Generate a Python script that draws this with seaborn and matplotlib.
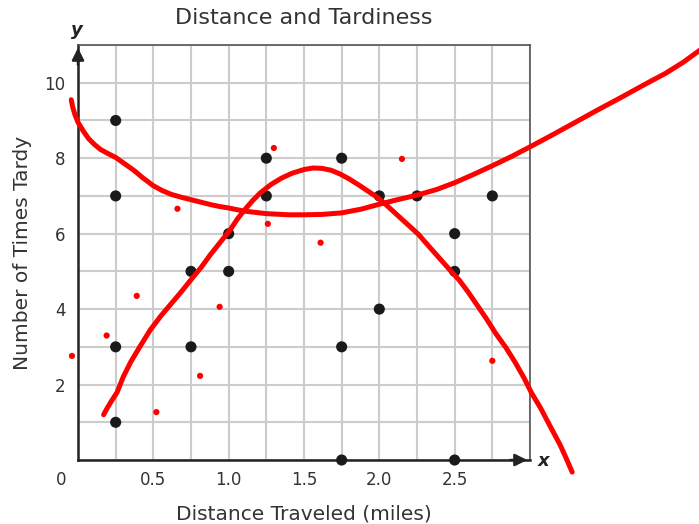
import numpy as np
import pandas as pd
import matplotlib
matplotlib.use('Agg')
import matplotlib.pyplot as plt
import seaborn as sns

# data points
distance = [0.25, 0.25, 0.25, 0.25, 0.75, 0.75, 1.0, 1.0, 1.25, 1.25,
            1.75, 1.75, 1.75, 2.0, 2.0, 2.25, 2.5, 2.5, 2.5, 2.75]
tardy = [9, 7, 3, 1, 5, 3, 6, 5, 8, 7,
         8, 3, 0, 7, 4, 7, 6, 5, 0, 7]

# hand drawn red curves
curve1_x = [-0.045, -0.035, -0.02, 0.0, 0.035, 0.07, 0.11, 0.15, 0.2, 0.25, 0.31,
            0.37, 0.43, 0.5, 0.56, 0.62, 0.69, 0.75, 0.82, 0.88, 0.94, 1.0,
            1.1, 1.25, 1.4, 1.5, 1.62, 1.75, 1.88, 2.0, 2.12, 2.25, 2.38,
            2.5, 2.62, 2.75, 2.88, 3.0, 3.15, 3.3, 3.45, 3.6, 3.75, 3.9,
            4.02, 4.14]
curve1_y = [9.55, 9.35, 9.15, 8.95, 8.72, 8.52, 8.36, 8.23, 8.12, 8.02, 7.85,
            7.68, 7.48, 7.27, 7.14, 7.04, 6.96, 6.9, 6.83, 6.77, 6.72, 6.68,
            6.6, 6.53, 6.5, 6.5, 6.51, 6.55, 6.65, 6.78, 6.9, 7.02, 7.17,
            7.35, 7.56, 7.8, 8.05, 8.3, 8.62, 8.95, 9.28, 9.6, 9.93, 10.25,
            10.55, 10.9]
curve2_x = [0.17, 0.19, 0.22, 0.26, 0.3, 0.35, 0.41, 0.48, 0.55, 0.62, 0.69,
            0.75, 0.82, 0.88, 0.95, 1.01, 1.06, 1.11, 1.16, 1.21, 1.28, 1.35,
            1.42, 1.5, 1.56, 1.62, 1.68, 1.74, 1.8, 1.86, 1.92, 1.98, 2.03,
            2.09, 2.15, 2.2, 2.26, 2.33, 2.41, 2.47, 2.53, 2.59, 2.65, 2.71,
            2.77, 2.84, 2.9, 2.96, 3.01, 3.07, 3.12, 3.16, 3.2, 3.24, 3.28]
curve2_y = [1.2, 1.35, 1.55, 1.8, 2.2, 2.6, 3.0, 3.45, 3.82, 4.15, 4.48,
            4.78, 5.12, 5.45, 5.8, 6.1, 6.4, 6.65, 6.88, 7.08, 7.3, 7.47,
            7.6, 7.7, 7.74, 7.73, 7.68, 7.58, 7.45, 7.3, 7.14, 6.98, 6.82,
            6.6, 6.38, 6.2, 5.98, 5.66, 5.3, 5.03, 4.77, 4.45, 4.1, 3.75,
            3.37, 2.98, 2.6, 2.18, 1.78, 1.38, 1.0, 0.7, 0.4, 0.05, -0.32]
dots_x = [1.3, 0.66, 1.26, 1.61, 2.15, 0.39, 0.19, -0.04, 0.94, 0.81, 0.52, 2.75]
dots_y = [8.27, 6.66, 6.26, 5.76, 7.98, 4.35, 3.3, 2.76, 4.06, 2.23, 1.27, 2.63]

x_ticks = [0.5, 1.0, 1.5, 2.0, 2.5]
x_tick_labels = ['0.5', '1.0', '1.5', '2.0', '2.5']
y_ticks = [2, 4, 6, 8, 10]

sns.set_style('white')
plt.rcParams['font.family'] = ['DejaVu Sans']

fig = plt.figure(figsize=(6.99, 5.24), dpi=100)
ax = fig.add_axes([0.1116, 0.1221, 0.6466, 0.7920])

ax.set_xlim(0, 3)
ax.set_ylim(0, 11)
ax.set_xticks(np.arange(0, 3.01, 0.25), minor=True)
ax.set_yticks(np.arange(0, 11.01, 1), minor=True)
ax.set_xticks(x_ticks)
ax.set_xticklabels(x_tick_labels)
ax.set_yticks(y_ticks)
ax.grid(which='both', color='#cccccc', linewidth=1.5)
ax.set_axisbelow(True)
ax.tick_params(which='both', length=0, labelsize=12, labelcolor='#333333')
ax.tick_params(axis='x', pad=8)
ax.tick_params(axis='y', pad=9)

for side in ['top', 'right']:
    ax.spines[side].set_color('#555555')
    ax.spines[side].set_linewidth(1.2)
for side in ['left', 'bottom']:
    ax.spines[side].set_color('#222222')
    ax.spines[side].set_linewidth(1.8)

pts = pd.DataFrame({'d': distance, 't': tardy})
sns.scatterplot(data=pts, x='d', y='t', color='#1a1a1a', s=64, edgecolor='none',
                ax=ax, clip_on=False, zorder=3)

# axis arrows
ax.annotate('', xy=(0, 11), xytext=(0, 10.4),
            arrowprops=dict(arrowstyle='-|>', color='#222222', lw=1.8,
                            mutation_scale=18))
ax.annotate('', xy=(3, 0), xytext=(2.85, 0),
            arrowprops=dict(arrowstyle='-|>', color='#222222', lw=1.8,
                            mutation_scale=18))

# red annotations
c1 = pd.DataFrame({'x': curve1_x, 'y': curve1_y})
c2 = pd.DataFrame({'x': curve2_x, 'y': curve2_y})
for c in [c1, c2]:
    sns.lineplot(data=c, x='x', y='y', sort=False, estimator=None, color='red',
                 linewidth=3.6, ax=ax, clip_on=False, zorder=4,
                 solid_joinstyle='round', solid_capstyle='round')
sns.scatterplot(x=dots_x, y=dots_y, color='red', s=20, edgecolor='none',
                ax=ax, clip_on=False, zorder=4)

ax.set_xlim(0, 3)
ax.set_ylim(0, 11)

ax.set_title('Distance and Tardiness', fontsize=16, color='#333333', pad=15)
ax.set_xlabel('Distance Traveled (miles)', fontsize=14.5, color='#333333', labelpad=11)
ax.set_ylabel('Number of Times Tardy', fontsize=14.5, color='#333333', labelpad=9)

ax.text(-0.11, -0.52, '0', fontsize=12, color='#333333', ha='center', va='center')
ax.text(-0.005, 11.4, 'y', fontsize=13, fontweight='bold', fontstyle='italic',
        color='#222222', ha='center', va='center')
ax.text(3.09, -0.02, 'x', fontsize=13, fontweight='bold', fontstyle='italic',
        color='#222222', ha='center', va='center')

plt.savefig('out.png', dpi=100)
